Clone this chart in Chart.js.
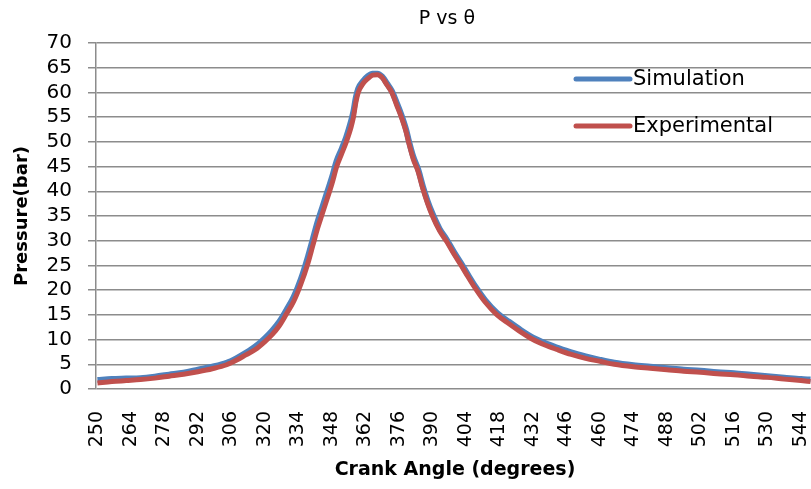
<!DOCTYPE html>
<html>
<head>
<meta charset="utf-8">
<title>P vs θ</title>
<script src="https://cdn.jsdelivr.net/npm/chart.js@4.4.1/dist/chart.umd.min.js"></script>
<style>
  html, body { margin: 0; padding: 0; background: #fff; }
  #wrap { width: 811px; height: 489px; }
</style>
</head>
<body>
<div id="wrap"><canvas id="pchart" width="811" height="489"></canvas></div>
<script>
// Crank angle samples (degrees)
const angles = [
  250, 256, 262, 268, 274, 280, 286, 292, 298, 304,
  308, 312, 316, 320,
  323, 326, 329, 332, 335, 338,
  340, 342, 344, 346, 348, 350, 352, 354, 356,
  357, 358, 359,
  361, 363, 365, 367, 369, 371, 373, 375, 377, 379,
  380, 382, 384, 386, 388, 390,
  393, 396, 399, 402, 405, 408, 412, 417, 422, 427, 432, 437, 442, 448, 454, 460, 466,
  474, 481, 488, 495, 502, 509, 516, 523, 530, 537, 544, 548,
];

// Pressure (bar)
const simulation = [
  1.8, 2.0, 2.1, 2.2, 2.5, 2.9, 3.3, 3.9, 4.5, 5.3,
  6.2, 7.3, 8.6, 10.3,
  11.8, 13.6, 16.0, 18.6, 22.2, 26.8,
  30.3, 33.8, 36.8, 39.8, 42.8, 46.2, 48.5, 51.0, 54.2,
  56.2, 59.0, 60.8,
  62.3, 63.3, 63.8, 63.8, 63.2, 61.8, 60.3, 58.0, 55.5, 52.5,
  50.5, 47.0, 44.5, 41.0, 38.0, 35.5,
  32.4, 30.2, 27.7, 25.4, 23.0, 20.7, 18.0, 15.4, 13.6, 11.9, 10.4, 9.3, 8.4, 7.4, 6.6, 5.9, 5.3,
  4.8, 4.5, 4.2, 3.9, 3.7, 3.4, 3.2, 2.9, 2.6, 2.3, 2.0, 1.9,
];

const experimental = [
  1.2, 1.5, 1.7, 1.9, 2.2, 2.6, 3.0, 3.5, 4.1, 4.9,
  5.8, 6.9, 8.0, 9.6,
  11.0, 12.8, 15.2, 17.7, 21.2, 25.5,
  29.0, 32.5, 35.5, 38.5, 41.5, 45.0, 47.5, 50.0, 53.0,
  55.0, 58.0, 60.0,
  61.8, 62.8, 63.5, 63.6, 63.0, 61.5, 60.0, 57.5, 55.0, 52.0,
  50.0, 46.5, 44.0, 40.5, 37.5, 35.0,
  32.0, 29.8, 27.3, 25.0, 22.6, 20.3, 17.6, 15.0, 13.2, 11.5, 10.0, 8.9, 8.0, 7.0, 6.2, 5.6, 5.0,
  4.5, 4.2, 3.9, 3.6, 3.4, 3.1, 2.9, 2.6, 2.35, 2.0, 1.7, 1.5,
];

// Axis tick labels
const xTicks = [250, 264, 278, 292, 306, 320, 334, 348, 362, 376, 390, 404, 418, 432, 446, 460, 474, 488, 502, 516, 530, 544];
const yTicks = [0, 5, 10, 15, 20, 25, 30, 35, 40, 45, 50, 55, 60, 65, 70];

const COLORS = {
  sim:  '#4F81BD',
  exp:  '#C0504D',
  grid: '#8C8C8C',
  text: '#000000',
};
const FONT = '"DejaVu Sans", sans-serif';

const toPoints = vals => angles.map((a, i) => ({ x: a, y: vals[i] }));

// Title, axis titles and the in-plot legend are drawn by hand
const annotations = {
  id: 'annotations',
  afterDraw(chart) {
    const { ctx, chartArea } = chart;
    ctx.save();
    ctx.fillStyle = COLORS.text;
    ctx.textBaseline = 'middle';

    ctx.font = `19px ${FONT}`;
    ctx.textAlign = 'center';
    ctx.fillText('P vs θ', 447, 19);

    ctx.font = `bold 19px ${FONT}`;
    ctx.fillText('Crank Angle (degrees)', 455, 470);

    ctx.font = `bold 18px ${FONT}`;
    ctx.save();
    ctx.translate(22, (chartArea.top + chartArea.bottom) / 2);
    ctx.rotate(-Math.PI / 2);
    ctx.fillText('Pressure(bar)', 0, 0);
    ctx.restore();

    // legend
    ctx.font = `21px ${FONT}`;
    ctx.textAlign = 'left';
    chart.data.datasets.forEach((ds, i) => {
      const y = 79 + i * 47;
      ctx.strokeStyle = ds.borderColor;
      ctx.lineWidth = 5;
      ctx.lineCap = 'round';
      ctx.beginPath();
      ctx.moveTo(576, y);
      ctx.lineTo(630, y);
      ctx.stroke();
      ctx.fillText(ds.label, 633, y + 1);
    });
    ctx.restore();
  }
};

new Chart(document.getElementById('pchart'), {
  type: 'line',
  data: {
    datasets: [
      {
        label: 'Simulation',
        data: toPoints(simulation),
        borderColor: COLORS.sim,
        borderWidth: 6,
        pointRadius: 0,
        cubicInterpolationMode: 'monotone',
        order: 2,
      },
      {
        label: 'Experimental',
        data: toPoints(experimental),
        borderColor: COLORS.exp,
        borderWidth: 5,
        pointRadius: 0,
        cubicInterpolationMode: 'monotone',
        order: 1,
      },
    ]
  },
  options: {
    responsive: false,
    animation: false,
    layout: { padding: { top: 43, right: 0, left: 0, bottom: 0 } },
    plugins: {
      legend: { display: false },
      title: { display: false },
      tooltip: { enabled: false },
    },
    scales: {
      x: {
        type: 'linear',
        min: 249.4,
        max: 548.2,
        afterFit: s => { s.height = 100; s.paddingLeft = 0; s.paddingRight = 0; },
        afterBuildTicks: s => { s.ticks = xTicks.map(v => ({ value: v })); },
        grid: { display: false },
        border: { display: false },
        ticks: {
          color: COLORS.text,
          font: { family: FONT, size: 19 },
          minRotation: 90,
          maxRotation: 90,
          padding: 14,
          autoSkip: false,
        },
      },
      y: {
        min: 0,
        max: 70,
        afterFit: s => { s.width = 96; s.paddingTop = 0; s.paddingBottom = 0; },
        afterBuildTicks: s => { s.ticks = yTicks.map(v => ({ value: v })); },
        grid: { color: COLORS.grid, lineWidth: 1.5, tickLength: 8 },
        border: { display: true, color: COLORS.grid, width: 1.5 },
        ticks: {
          color: COLORS.text,
          font: { family: FONT, size: 20 },
          padding: 16,
          autoSkip: false,
        },
      },
    },
  },
  plugins: [annotations],
});
</script>
</body>
</html>
